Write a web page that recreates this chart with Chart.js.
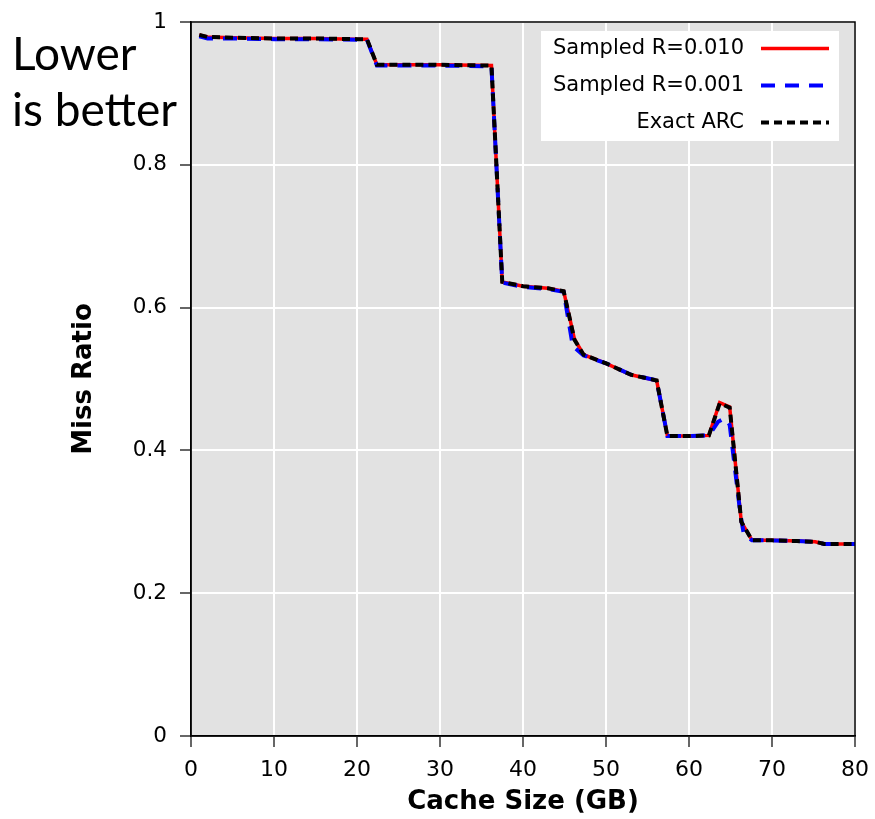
<!DOCTYPE html>
<html>
<head>
<meta charset="utf-8">
<script src="https://cdn.jsdelivr.net/npm/chart.js@4.4.1/dist/chart.umd.min.js"></script>
<style>
html,body{margin:0;padding:0;background:#fff;}
#wrap{position:relative;width:875px;height:819px;}
canvas{display:block;}
</style>
</head>
<body>
<div id="wrap"><canvas id="c" width="875" height="819"></canvas></div>
<script>
// ---- data ----
const xTickValues = [0, 10, 20, 30, 40, 50, 60, 70, 80];
const yTickLabels = ['0', '0.2', '0.4', '0.6', '0.8', '1'];

const sizeExact = [1, 2, 5, 10, 15, 20, 21.2, 22.4, 25, 30, 36.2, 37.5, 40, 43, 44.9, 46.2, 47.3, 50, 53, 56.1, 57.4, 60, 62.4, 63.7, 64.9, 66.3, 67.6, 70, 73, 75.2, 76.3, 80];
const missExact = [0.982, 0.979, 0.978, 0.977, 0.977, 0.976, 0.976, 0.940, 0.940, 0.940, 0.939, 0.636, 0.630, 0.627, 0.623, 0.555, 0.534, 0.522, 0.506, 0.498, 0.420, 0.420, 0.421, 0.466, 0.460, 0.300, 0.274, 0.274, 0.273, 0.272, 0.269, 0.269];

const sizeR010 = [1, 2, 5, 10, 15, 20, 21.2, 22.4, 25, 30, 36.2, 37.5, 40, 43, 44.9, 46.2, 47.3, 50, 53, 56.1, 57.4, 60, 62.4, 63.7, 64.9, 66.3, 67.6, 70, 73, 75.2, 76.3, 80];
const missR010 = [0.982, 0.979, 0.978, 0.977, 0.977, 0.976, 0.976, 0.940, 0.940, 0.940, 0.939, 0.636, 0.630, 0.627, 0.623, 0.556, 0.534, 0.522, 0.506, 0.498, 0.420, 0.420, 0.421, 0.467, 0.461, 0.300, 0.274, 0.274, 0.273, 0.272, 0.269, 0.269];

const sizeR001 = [1, 2, 5, 10, 15, 20, 21.2, 22.4, 25, 30, 36.2, 37.5, 40, 43, 44.9, 46.0, 47.3, 50, 53, 56.1, 57.4, 60, 62.4, 63.5, 64.3, 64.9, 66.2, 66.6, 67.6, 70, 73, 75.2, 76.3, 80];
const missR001 = [0.980, 0.977, 0.977, 0.976, 0.976, 0.975, 0.975, 0.939, 0.939, 0.939, 0.938, 0.635, 0.629, 0.626, 0.622, 0.546, 0.533, 0.522, 0.506, 0.498, 0.420, 0.420, 0.421, 0.440, 0.445, 0.436, 0.310, 0.283, 0.274, 0.274, 0.273, 0.272, 0.269, 0.269];

const seriesLabels = ['Sampled R=0.010', 'Sampled R=0.001', 'Exact ARC'];
const annotationLines = ['Lower', 'is better'];

function pts(xs, ys) { return xs.map((x, i) => ({x: x, y: ys[i]})); }

const FONT = "'DejaVu Sans', sans-serif";

const bgPlugin = {
  id: 'bg',
  beforeDraw(chart) {
    const {ctx, chartArea: a} = chart;
    ctx.save();
    ctx.fillStyle = '#e2e2e2';
    ctx.fillRect(a.left, a.top, a.right - a.left, a.bottom - a.top);
    ctx.restore();
  },
  afterDraw(chart) {
    const {ctx, chartArea: a} = chart;
    ctx.save();
    ctx.strokeStyle = '#000';
    ctx.lineWidth = 1.5;
    ctx.strokeRect(a.left, a.top, a.right - a.left, a.bottom - a.top);

    // legend box
    const bx = 541, by = 31, bw = 298, bh = 110;
    ctx.fillStyle = '#fff';
    ctx.fillRect(bx, by, bw, bh);
    const rows = [48, 85, 122];
    ctx.font = '21px ' + FONT;
    ctx.textAlign = 'right';
    ctx.textBaseline = 'middle';
    [0, 1, 2].forEach((di, r) => {
      const ds = chart.data.datasets[di];
      ctx.fillStyle = '#000';
      ctx.fillText(ds.label, 744, rows[r] + 1);
      ctx.beginPath();
      ctx.strokeStyle = ds.borderColor;
      ctx.lineWidth = ds.borderWidth;
      ctx.setLineDash(ds.borderDash || []);
      ctx.moveTo(761, rows[r] + 0.5);
      ctx.lineTo(829, rows[r] + 0.5);
      ctx.stroke();
    });
    ctx.setLineDash([]);

    // annotation
    ctx.fillStyle = '#000';
    ctx.textAlign = 'left';
    ctx.textBaseline = 'alphabetic';
    ctx.font = "46px Lato, 'Open Sans', sans-serif";
    ctx.fillText(annotationLines[0], 12, 70);
    ctx.fillText(annotationLines[1], 12, 126);
    ctx.restore();
  }
};

function noPad(s) { s.paddingLeft = 0; s.paddingRight = 0; s.paddingTop = 0; s.paddingBottom = 0; }

new Chart(document.getElementById('c'), {
  type: 'line',
  data: {
    datasets: [
      {label: seriesLabels[0], data: pts(sizeR010, missR010), borderColor: '#ff0000', borderWidth: 3.5, borderDash: [], order: 2, pointRadius: 0, tension: 0, fill: false},
      {label: seriesLabels[1], data: pts(sizeR001, missR001), borderColor: '#0000ff', borderWidth: 4, borderDash: [14, 10], order: 1, pointRadius: 0, tension: 0, fill: false},
      {label: seriesLabels[2], data: pts(sizeExact, missExact), borderColor: '#000000', borderWidth: 4, borderDash: [8, 5], order: 0, pointRadius: 0, tension: 0, fill: false}
    ]
  },
  options: {
    responsive: false,
    animation: false,
    devicePixelRatio: 1,
    layout: {padding: {top: 22, right: 20, left: 0, bottom: 0}},
    plugins: {legend: {display: false}, tooltip: {enabled: false}},
    scales: {
      x: {
        type: 'linear', min: 0, max: 80,
        afterFit(s) { s.height = 83; noPad(s); },
        afterBuildTicks(s) { s.ticks = xTickValues.map(v => ({value: v})); },
        ticks: {color: '#000', font: {family: FONT, size: 22}, padding: 10, maxRotation: 0,
                callback: v => String(v)},
        grid: {color: '#ffffff', lineWidth: 2, tickColor: '#000', tickLength: 11, tickWidth: 1.2},
        border: {display: true, color: '#000', width: 1.5},
        title: {display: true, text: 'Cache Size (GB)', color: '#000',
                font: {family: FONT, size: 26, weight: 'bold', lineHeight: 1.2}, padding: {top: 0, bottom: 1}}
      },
      y: {
        type: 'linear', min: 0, max: 1,
        afterFit(s) { s.width = 191; noPad(s); },
        afterBuildTicks(s) { s.ticks = yTickLabels.map(t => ({value: parseFloat(t)})); },
        ticks: {color: '#000', font: {family: FONT, size: 21.5}, padding: 13,
                callback: (v, i) => yTickLabels[i]},
        grid: {color: '#ffffff', lineWidth: 2, tickColor: '#000', tickLength: 11, tickWidth: 1.2},
        border: {display: true, color: '#000', width: 1.5},
        title: {display: true, text: 'Miss Ratio', color: '#000',
                font: {family: FONT, size: 26, weight: 'bold', lineHeight: 1.2}, padding: {top: 69, bottom: 0}}
      }
    }
  },
  plugins: [bgPlugin]
});
</script>
</body>
</html>
